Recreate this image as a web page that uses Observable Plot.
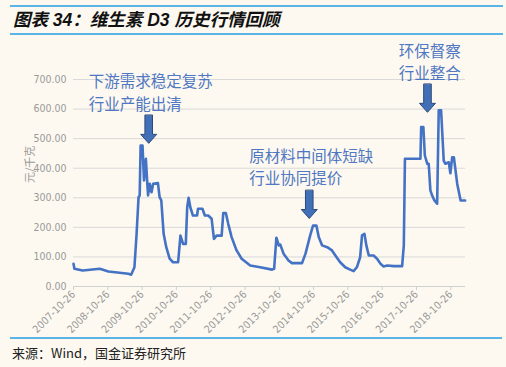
<!DOCTYPE html>
<html>
<head>
<meta charset="utf-8">
<script src="https://cdn.jsdelivr.net/npm/d3@7"></script>
<script src="https://cdn.jsdelivr.net/npm/@observablehq/plot@0.6"></script>
<style>
  body { margin:0; width:506px; height:367px; background:#fdf9f0; position:relative; overflow:hidden; }
  #title { position:absolute; left:10px; top:5px; width:490px; height:26px; border-top:2px solid #5ab4e6; border-bottom:2px solid #5ab4e6;
    line-height:26px; font-family:"Liberation Sans","Noto Sans CJK SC",sans-serif; font-weight:700; font-style:italic; font-size:17.5px; color:#111; padding-left:3px; box-sizing:content-box; }
  #chart { position:absolute; left:0; top:40px; }
  #source { position:absolute; left:10px; top:337px; width:490px; border-top:2px solid #5ab4e6; line-height:28px;
    font-family:"Noto Sans CJK SC",sans-serif; font-size:13px; color:#222; padding-left:2px; }
</style>
</head>
<body>
<div id="title">图表 34：维生素 D3 历史行情回顾</div>
<div id="chart"></div>
<div id="source">来源：Wind，国金证券研究所</div>
<script>
const dates = ["2007-10-26","2007-11-05","2008-02-01","2008-08-01","2008-11-01","2009-06-01","2009-07-01","2009-08-05","2009-08-28","2009-09-18","2009-09-30","2009-10-10","2009-10-30","2009-11-15","2009-12-05","2009-12-18","2009-12-28","2010-01-15","2010-02-03","2010-02-20","2010-04-12","2010-04-30","2010-05-18","2010-06-12","2010-07-10","2010-08-15","2010-09-20","2010-11-13","2010-12-08","2011-01-05","2011-02-03","2011-02-18","2011-03-05","2011-03-23","2011-04-20","2011-06-03","2011-06-13","2011-07-30","2011-08-25","2011-09-30","2011-11-05","2011-11-30","2011-12-28","2012-02-20","2012-03-08","2012-04-05","2012-04-30","2012-06-05","2012-07-28","2012-09-20","2012-12-20","2013-04-05","2013-08-10","2013-09-01","2013-09-25","2013-10-20","2013-11-05","2013-12-10","2014-02-01","2014-03-10","2014-06-25","2014-08-01","2014-09-20","2014-10-20","2014-11-25","2014-12-20","2015-01-25","2015-03-20","2015-05-10","2015-06-15","2015-08-05","2015-09-28","2015-11-20","2015-12-26","2016-01-30","2016-03-05","2016-03-25","2016-04-20","2016-05-10","2016-06-05","2016-07-26","2016-09-01","2016-10-08","2016-11-10","2016-12-18","2017-02-26","2017-05-26","2017-06-13","2017-06-25","2017-12-07","2017-12-15","2018-01-07","2018-01-23","2018-02-18","2018-03-05","2018-03-23","2018-04-10","2018-05-05","2018-06-03","2018-06-20","2018-07-15","2018-08-12","2018-08-30","2018-10-05","2018-10-22","2018-11-10","2018-11-28","2019-01-03","2019-02-08","2019-03-28"];
const prices = [77,60,54,60,51,43,40,65,178,302,308,477,477,359,432,359,308,347,319,347,350,302,291,178,133,94,82,82,172,144,144,268,300,268,240,240,263,263,240,240,229,161,172,172,248,248,212,167,122,94,71,65,57,60,165,139,142,111,88,79,79,111,173,206,206,167,139,133,122,105,82,65,57,52,65,99,173,178,139,105,105,94,77,68,71,69,69,139,432,432,539,539,443,415,415,325,308,291,280,596,596,426,415,420,383,437,437,347,291,291];
const xTickLabels = ["2007-10-26","2008-10-26","2009-10-26","2010-10-26","2011-10-26","2012-10-26","2013-10-26","2014-10-26","2015-10-26","2016-10-26","2017-10-26","2018-10-26"];
const yTicks = [0,100,200,300,400,500,600,700];
const yLabel = "元/千克";
const noteLines = ["下游需求稳定复苏","行业产能出清","原材料中间体短缺","行业协同提价","环保督察","行业整合"];
const noteDates = ["2008-04-05","2008-04-05","2012-12-11","2012-12-11","2017-04-20","2017-04-20"];
const noteValues = [691,615,439,363,794,718];
const arrowDates = ["2010-01-04","2014-09-10","2018-02-20"];
const arrowValues = [484,230,589];

const data = dates.map((d,i)=>({date:new Date(d), value:prices[i]}));
const notes = noteLines.map((t,i)=>({text:t, date:new Date(noteDates[i]), value:noteValues[i]}));
const arrows = arrowDates.map((d,i)=>({date:new Date(d), value:arrowValues[i]}));

const blockArrow = {
  draw(context, l) {
    const w = 3.8, hw = 8, hl = 9;
    context.moveTo(-w, 0);
    context.lineTo(-w, -(l - hl));
    context.lineTo(-hw, -(l - hl));
    context.lineTo(0, -l);
    context.lineTo(hw, -(l - hl));
    context.lineTo(w, -(l - hl));
    context.lineTo(w, 0);
    context.closePath();
  }
};

const chart = Plot.plot({
  width: 506,
  height: 295,
  marginLeft: 73,
  marginRight: 41,
  marginTop: 39,
  marginBottom: 49,
  style: {background:"transparent", fontFamily:"'Liberation Sans Narrow','DejaVu Sans Condensed','Liberation Sans',sans-serif", color:"#999", overflow:"visible"},
  x: {type:"utc", domain:[new Date("2007-10-26"), new Date("2019-04-01")]},
  y: {domain:[0,700]},
  marks: [
    Plot.gridY(yTicks.filter(v=>v>0), {stroke:"#d9d9d9", strokeOpacity:1, strokeWidth:1}),
    Plot.ruleY([0], {stroke:"#d0d0d0", strokeWidth:1}),
    Plot.axisY(yTicks, {tickSize:0, tickPadding:7, tickFormat:d=>d.toFixed(2), fontSize:10.5, fill:"#9a9a9a", label:null}),
    Plot.axisX(xTickLabels.map(d=>new Date(d)), {tickRotate:-45, tickSize:4, stroke:"#d0d0d0", tickPadding:2, tickFormat:d3.utcFormat("%Y-%m-%d"), fontSize:10.5, fill:"#9a9a9a", label:null}),
    Plot.text([yLabel], {frameAnchor:"left", dx:-43, rotate:-90, fontSize:11, fill:"#9a9a9a", fontFamily:"Noto Sans CJK SC"}),
    Plot.lineY(data, {x:"date", y:"value", stroke:"#4472c4", strokeWidth:2.6, strokeLinejoin:"round"}),
    Plot.text(notes, {x:"date", y:"value", text:"text", textAnchor:"start", lineAnchor:"middle", fontSize:15.5, fill:"#4f77c2", fontFamily:"Noto Sans CJK SC"}),
    Plot.vector(arrows, {x:"date", y:"value", length:28, rotate:180, anchor:"end", shape:blockArrow, fill:"#4270b8", stroke:"#2b4a7a", strokeWidth:1})
  ]
});
document.getElementById("chart").appendChild(chart);
</script>
</body>
</html>
